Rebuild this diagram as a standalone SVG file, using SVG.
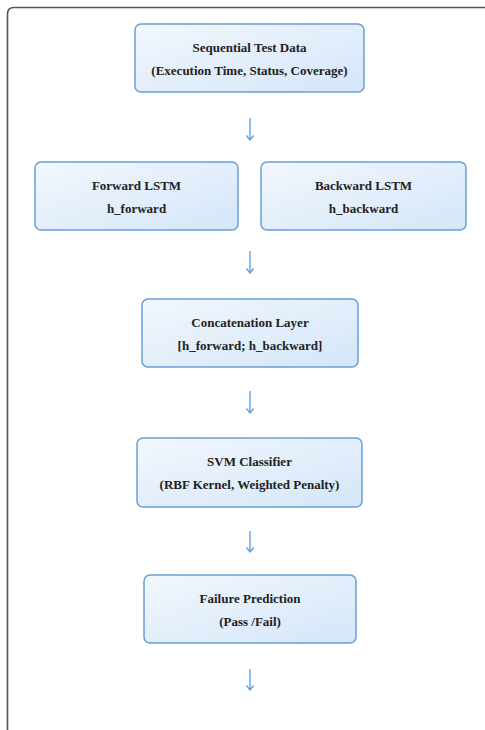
<svg xmlns="http://www.w3.org/2000/svg" width="485" height="730" viewBox="0 0 485 730">
<defs>
<linearGradient id="bg" x1="0" y1="0" x2="1" y2="1">
<stop offset="0" stop-color="#f2f7fd"/>
<stop offset="1" stop-color="#d4e6f8"/>
</linearGradient>
<marker id="ah" viewBox="0 0 10 10" refX="9" refY="5" markerWidth="9" markerHeight="9" markerUnits="userSpaceOnUse" orient="auto">
<path d="M4 1 L9 5 L4 9" fill="none" stroke="#5b9bd5" stroke-width="1.4"/>
</marker>
<style>
.box{fill:url(#bg);stroke:#6a9fd6;stroke-width:1.5}
.t{font-family:"Liberation Serif","Times New Roman",serif;font-weight:bold;font-size:13px;fill:#222;text-anchor:middle}
.c{stroke:#5b9bd5;stroke-width:1.3;fill:none}
</style>
</defs>
<rect width="485" height="730" fill="#ffffff"/>
<path d="M7.5 740 V14 Q7.5 7.5 14 7.5 H495" fill="none" stroke="#555" stroke-width="1.6"/>
<g id="n1"><rect class="box" x="135" y="24" width="229" height="68" rx="6"/>
<text class="t" x="249.5" y="52">Sequential Test Data</text>
<text class="t" x="249.5" y="75">(Execution Time, Status, Coverage)</text></g>
<g id="n2"><rect class="box" x="35" y="162" width="203" height="68" rx="6"/>
<text class="t" x="136.5" y="190">Forward LSTM</text>
<text class="t" x="136.5" y="213">h_forward</text></g>
<g id="n3"><rect class="box" x="261" y="162" width="205" height="68" rx="6"/>
<text class="t" x="363.5" y="190">Backward LSTM</text>
<text class="t" x="363.5" y="213">h_backward</text></g>
<g id="n4"><rect class="box" x="142" y="299" width="216" height="68" rx="6"/>
<text class="t" x="250" y="327">Concatenation Layer</text>
<text class="t" x="250" y="350">[h_forward; h_backward]</text></g>
<g id="n5"><rect class="box" x="137" y="438" width="225" height="69" rx="6"/>
<text class="t" x="249.5" y="466">SVM Classifier</text>
<text class="t" x="249.5" y="489">(RBF Kernel, Weighted Penalty)</text></g>
<g id="n6"><rect class="box" x="144" y="575" width="212" height="68" rx="6"/>
<text class="t" x="250" y="603">Failure Prediction</text>
<text class="t" x="250" y="626">(Pass /Fail)</text></g>
<g id="connectors">
<line class="c" x1="250" y1="118" x2="250" y2="140" marker-end="url(#ah)"/>
<line class="c" x1="250" y1="251" x2="250" y2="273" marker-end="url(#ah)"/>
<line class="c" x1="250" y1="391" x2="250" y2="413" marker-end="url(#ah)"/>
<line class="c" x1="250" y1="531" x2="250" y2="552" marker-end="url(#ah)"/>
<line class="c" x1="250" y1="669" x2="250" y2="690" marker-end="url(#ah)"/>
</g>
</svg>
